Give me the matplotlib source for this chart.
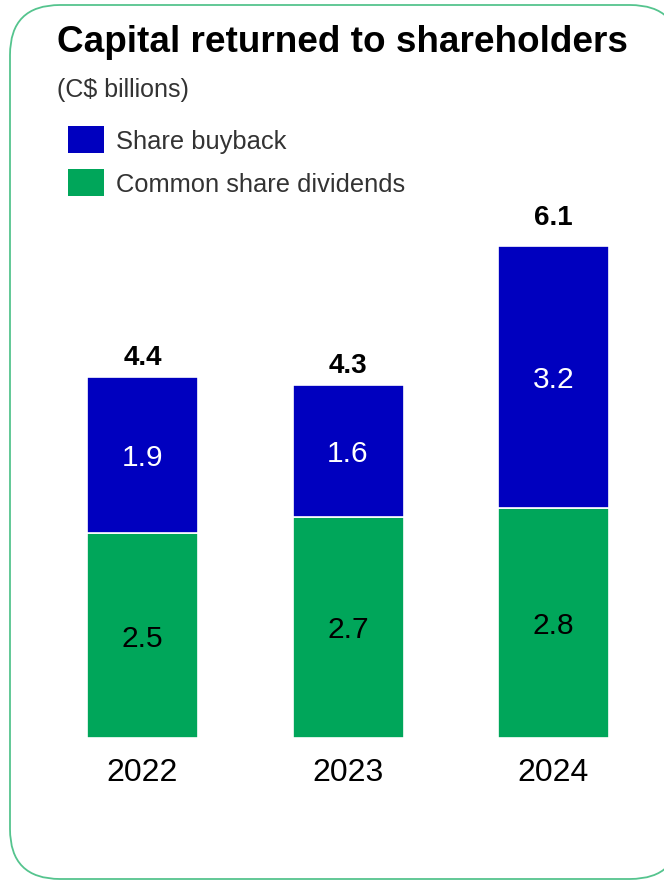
import matplotlib
matplotlib.use("Agg")
import matplotlib.pyplot as plt
from matplotlib.patches import FancyBboxPatch, Rectangle
import numpy as np

plt.rcParams['font.family'] = ['Liberation Sans', 'DejaVu Sans']

# C$ billions
years = ["2022", "2023", "2024"]
dividends = [2.5, 2.7, 2.8]
buyback = [1.9, 1.6, 3.2]
totals = [4.4, 4.3, 6.1]

BLUE = "#0000BF"
GREEN = "#00A65A"
BORDER = "#55C48E"
GREY = "#333333"

W, H = 664, 881
fig = plt.figure(figsize=(W / 100, H / 100), dpi=100)

# overlay in pixel units for the card frame, headings and legend
bg = fig.add_axes([0, 0, 1, 1])
bg.set_xlim(0, W)
bg.set_ylim(H, 0)
bg.axis("off")

card = FancyBboxPatch((10, 5), 670, 874,
                      boxstyle="round,pad=0,rounding_size=50",
                      facecolor="white", edgecolor=BORDER, linewidth=1.3)
bg.add_patch(card)

bg.text(57, 42, "Capital returned to shareholders", fontsize=26.6,
        fontweight="bold", color="black", va="center", ha="left")
bg.text(57, 90, "(C$ billions)", fontsize=18, color=GREY,
        va="center", ha="left")

legend_items = [("Share buyback", BLUE, 139), ("Common share dividends", GREEN, 182)]
for label, color, yc in legend_items:
    bg.add_patch(Rectangle((68, yc - 13), 36, 27, facecolor=color,
                           edgecolor="none"))
    bg.text(116, yc + 3, label, fontsize=18.4, color=GREY, va="center", ha="left")

# bar axes: baseline at y=738 px, 82 px per C$ billion, bars 205.5 px apart
px_unit = 82
base_px = 738
ymax = 6.5
x0_px, step_px = 142.5, 205.5
ax = fig.add_axes([0, (H - base_px) / H, 1, ymax * px_unit / H])
ax.set_ylim(0, ymax)
ax.set_xlim(-x0_px / step_px, (W - x0_px) / step_px)
ax.axis("off")

x = np.arange(len(years))
width = 111 / step_px
ax.bar(x, dividends, width, color=GREEN, edgecolor="white", linewidth=1.2)
ax.bar(x, buyback, width, bottom=dividends, color=BLUE,
       edgecolor="white", linewidth=1.2)

for i in range(len(years)):
    ax.annotate(f"{dividends[i]:.1f}", xy=(x[i], dividends[i] / 2),
                xytext=(0, -2.2), textcoords="offset points", fontsize=21.5,
                color="black", ha="center", va="center")
    ax.annotate(f"{buyback[i]:.1f}", xy=(x[i], dividends[i] + buyback[i] / 2),
                xytext=(0, -2.2), textcoords="offset points", fontsize=21.5,
                color="white", ha="center", va="center")
    ax.annotate(f"{totals[i]:.1f}", xy=(x[i], totals[i]), xytext=(0, 9),
                textcoords="offset points", fontsize=20, fontweight="bold",
                ha="center", va="baseline")
    ax.annotate(years[i], xy=(x[i], 0), xytext=(0, -25),
                textcoords="offset points", fontsize=23,
                ha="center", va="center")

fig.savefig("out.png", dpi=100)
